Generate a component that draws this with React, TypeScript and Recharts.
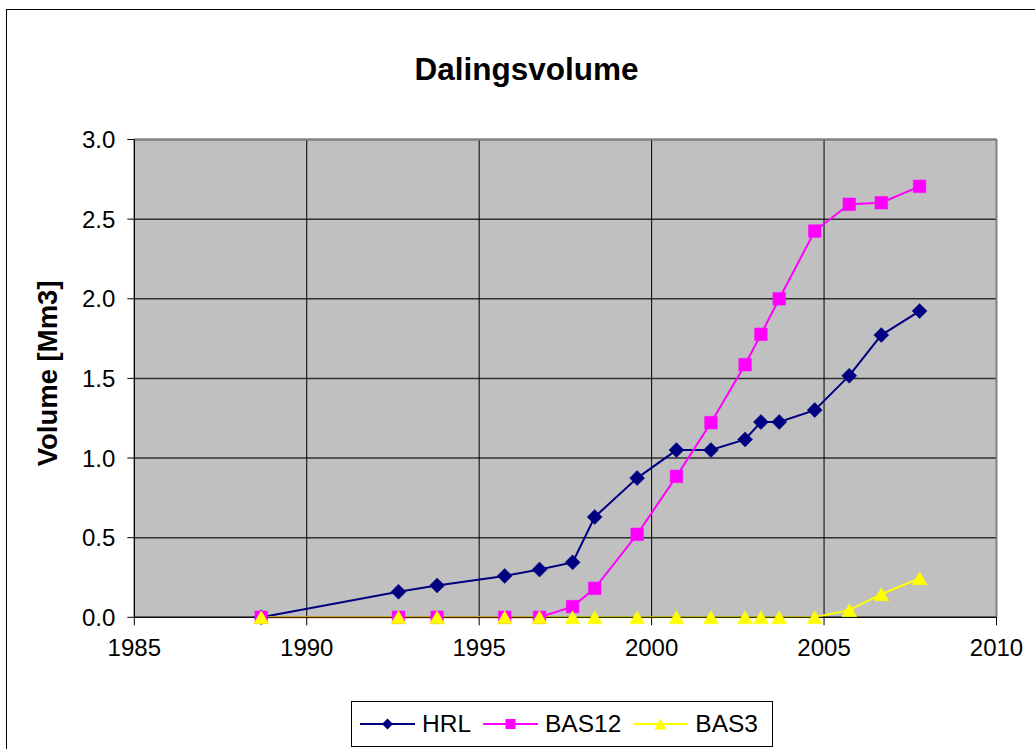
import React from "react";
import { LineChart, Line, XAxis, YAxis, CartesianGrid, ReferenceLine } from "recharts";

const years = [1988.68, 1992.66, 1993.78, 1995.74, 1996.75, 1997.71, 1998.35, 1999.58, 2000.72, 2001.72, 2002.71, 2003.17, 2003.7, 2004.73, 2005.73, 2006.66, 2007.77];
const hrl = [0, 0.16, 0.2, 0.26, 0.3, 0.345, 0.63, 0.874, 1.05, 1.05, 1.117, 1.226, 1.226, 1.301, 1.517, 1.772, 1.923];
const bas12 = [0, 0, 0, 0, 0, 0.067, 0.182, 0.521, 0.885, 1.222, 1.586, 1.777, 2.0, 2.425, 2.593, 2.603, 2.706];
const bas3 = [0, 0, 0, 0, 0, 0, 0, 0, 0, 0, 0, 0, 0, 0, 0.045, 0.145, 0.245];

const xTicks = [1985, 1990, 1995, 2000, 2005, 2010];
const yTicks = [0, 0.5, 1, 1.5, 2, 2.5, 3];

const title = "Dalingsvolume";
const yLabel = "Volume [Mm3]";

const data = years.map((y, i) => ({ year: y, HRL: hrl[i], BAS12: bas12[i], BAS3: bas3[i] }));

const FONT = '"Liberation Sans", Arial, sans-serif';

const NAVY = "#000080";
const MAGENTA = "#FF00FF";
const YELLOW = "#FFFF00";

function diamondPath(cx: number, cy: number, r: number) {
  return `M${cx},${cy - r}L${cx + r},${cy}L${cx},${cy + r}L${cx - r},${cy}Z`;
}
function squarePath(cx: number, cy: number, r: number) {
  return `M${cx - r},${cy - r}H${cx + r}V${cy + r}H${cx - r}Z`;
}
function trianglePath(cx: number, cy: number, w: number, h: number) {
  return `M${cx},${cy - h / 2}L${cx + w / 2},${cy + h / 2}L${cx - w / 2},${cy + h / 2}Z`;
}

const DiamondDot = (p: any) => <path key={`hd-${p.index}`} d={diamondPath(p.cx, p.cy, 7.5)} fill={NAVY} stroke={NAVY} strokeWidth={0.5} />;
const SquareDot = (p: any) => <path key={`bs-${p.index}`} d={squarePath(p.cx, p.cy, 6.3)} fill={MAGENTA} stroke={MAGENTA} strokeWidth={0.5} />;
const TriangleDot = (p: any) => <path key={`bt-${p.index}`} d={trianglePath(p.cx, p.cy, 15, 13)} fill={YELLOW} stroke={YELLOW} strokeWidth={0.5} />;

const series = [
  { name: "HRL", color: NAVY, shape: "diamond" },
  { name: "BAS12", color: MAGENTA, shape: "square" },
  { name: "BAS3", color: YELLOW, shape: "triangle" },
];

function LegendIcon({ color, shape }: { color: string; shape: string }) {
  const cx = 27.5;
  const cy = 12;
  let d = "";
  if (shape === "diamond") d = diamondPath(cx, cy, 5.5);
  else if (shape === "square") d = squarePath(cx, cy, 5);
  else d = trianglePath(cx, cy, 12, 11);
  return (
    <svg width={55} height={24} style={{ display: "block" }}>
      <line x1={0} y1={cy} x2={55} y2={cy} stroke={color} strokeWidth={2} />
      <path d={d} fill={color} />
    </svg>
  );
}

const YLabel = (props: any) => {
  const vb = props.viewBox || {};
  const cx = (vb.x ?? 75) - 27;
  const cy = (vb.y ?? 140) + (vb.height ?? 477) / 2 - 5;
  return (
    <text
      x={cx}
      y={cy}
      transform={`rotate(-90 ${cx} ${cy})`}
      textAnchor="middle"
      dominantBaseline="central"
      fontFamily={FONT}
      fontWeight="bold"
      fontSize={27.5}
      fill="#000"
    >
      {yLabel}
    </text>
  );
};

export default function App() {
  return (
    <div style={{ position: "absolute", left: 0, top: 0, width: 1035, height: 749, overflow: "hidden", background: "#fff", fontFamily: FONT }}>
      <div style={{ position: "absolute", left: 6, top: 9, width: 1100, height: 800, borderLeft: "1px solid #000", borderTop: "1px solid #000" }} />
      <div style={{ position: "absolute", left: 0, top: 51, width: 1053, textAlign: "center", fontSize: 31.5, fontWeight: "bold", color: "#000", lineHeight: "37px" }}>
        {title}
      </div>
      <div style={{ position: "absolute", left: 0, top: 0 }}>
        <LineChart width={1035} height={749} data={data} margin={{ top: 139.5, right: 38.5, bottom: 91.7, left: 74.3 }}>
          <CartesianGrid horizontal={true} vertical={false} fill="#C0C0C0" stroke="#303030" strokeWidth={1.5} />
          <CartesianGrid horizontal={false} vertical={true} stroke="#000" strokeWidth={1} />
          <XAxis
            dataKey="year"
            type="number"
            domain={[1985, 2010]}
            ticks={xTicks}
            height={40}
            tickSize={8}
            tickMargin={14}
            axisLine={{ stroke: "#000", strokeWidth: 1 }}
            tickLine={{ stroke: "#000" }}
            tick={{ fill: "#000", fontSize: 24, fontFamily: FONT }}
          />
          <YAxis
            type="number"
            domain={[0, 3]}
            ticks={yTicks}
            width={60}
            tickSize={7}
            tickMargin={12}
            axisLine={{ stroke: "#000", strokeWidth: 1 }}
            tickLine={{ stroke: "#000" }}
            tick={{ fill: "#000", fontSize: 24, fontFamily: FONT }}
            tickFormatter={(v: number) => v.toFixed(1)}
            label={{ content: YLabel }}
          />
          <ReferenceLine y={3} stroke="#808080" strokeWidth={2} />
          <ReferenceLine x={2010} stroke="#808080" strokeWidth={2} />
          <Line dataKey="HRL" stroke={NAVY} strokeWidth={2} dot={DiamondDot} activeDot={false} isAnimationActive={false} />
          <Line dataKey="BAS12" stroke={MAGENTA} strokeWidth={2} dot={SquareDot} activeDot={false} isAnimationActive={false} />
          <Line dataKey="BAS3" stroke={YELLOW} strokeWidth={2} dot={TriangleDot} activeDot={false} isAnimationActive={false} />
        </LineChart>
      </div>
      <div
        style={{
          position: "absolute",
          left: 351,
          top: 701,
          width: 422,
          height: 46,
          border: "1px solid #000",
          boxSizing: "border-box",
          display: "flex",
          alignItems: "center",
          paddingLeft: 8,
          background: "#fff",
        }}
      >
        {series.map((s) => (
          <div key={s.name} style={{ display: "flex", alignItems: "center", marginRight: 12 }}>
            <LegendIcon color={s.color} shape={s.shape} />
            <span style={{ fontSize: 24.5, marginLeft: 7, color: "#000", lineHeight: "28px" }}>{s.name}</span>
          </div>
        ))}
      </div>
    </div>
  );
}
